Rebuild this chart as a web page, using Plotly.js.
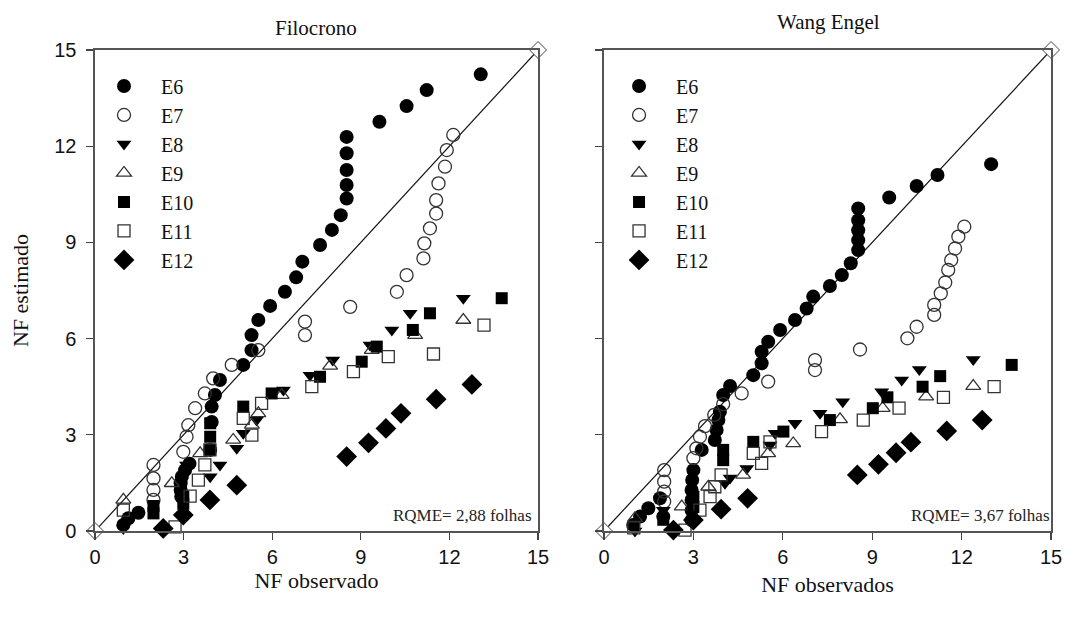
<!DOCTYPE html>
<html>
<head>
<meta charset="utf-8">
<script src="https://cdn.plot.ly/plotly-3.0.1.min.js"></script>
<style>html,body{margin:0;padding:0;background:#fff;}#chart{width:1065px;height:621px;}</style>
</head>
<body>
<div id="chart"></div>
<script>
// ---------- data ----------
const seriesNames = ["E6", "E7", "E8", "E9", "E10", "E11", "E12"];
const panelTitles = ["Filocrono", "Wang Engel"];
const xTitles = ["NF observado", "NF observados"];
const yTitle = "NF estimado";
const rqmeTexts = ["RQME= 2,88 folhas", "RQME= 3,67 folhas"];
const tickVals = [0, 3, 6, 9, 12, 15];
const lineX = [0, 15];
const lineY = [0, 15];

// Filocrono (left panel)
const filE6x = [0.96,1.13,1.47,2.92,2.90,2.90,2.94,3.05,3.20,3.90,3.95,3.95,4.06,4.23,5.02,5.30,5.30,5.53,5.93,6.43,6.81,7.02,7.62,8.02,8.32,8.52,8.52,8.52,8.52,8.52,9.63,10.55,11.23,13.06];
const filE6y = [0.19,0.40,0.57,1.07,1.28,1.49,1.69,1.90,2.10,2.53,3.40,3.88,4.24,4.71,5.18,5.64,6.11,6.58,7.02,7.46,7.91,8.40,8.92,9.39,9.85,10.37,10.79,11.26,11.78,12.29,12.76,13.25,13.75,14.24];
const filE7x = [1.98,1.98,1.98,1.98,2.99,3.10,3.16,3.39,3.72,4.00,4.63,5.53,7.11,7.11,8.64,10.22,10.55,11.12,11.15,11.34,11.55,11.55,11.63,11.85,11.91,12.13];
const filE7y = [0.97,1.28,1.64,2.06,2.47,2.94,3.30,3.83,4.29,4.76,5.18,5.64,6.11,6.53,6.99,7.46,7.98,8.50,8.97,9.44,9.90,10.32,10.84,11.36,11.88,12.35];
const filE8x = [0.96,3.10,3.90,4.23,4.80,5.02,5.47,6.04,6.38,7.28,8.05,9.31,10.05,10.67,12.47];
const filE8y = [0.08,2.06,1.69,2.06,2.58,3.05,3.46,4.34,4.40,4.86,5.33,5.80,6.27,6.79,7.26];
const filE9x = [0.96,2.60,3.56,4.68,5.31,5.53,6.32,7.96,9.37,10.84,12.47];
const filE9y = [0.97,1.49,2.42,2.84,3.31,3.67,4.24,5.15,5.64,6.11,6.58];
const filE10x = [1.98,1.98,2.99,2.99,3.90,3.90,3.90,5.02,5.98,7.62,9.03,9.54,10.76,11.34,13.77];
const filE10y = [0.55,0.78,0.85,1.07,2.53,2.94,3.36,3.88,4.29,4.81,5.28,5.75,6.27,6.79,7.26];
const filE11x = [0.96,2.71,3.22,3.50,3.72,3.89,5.02,5.31,5.64,7.34,8.75,9.93,11.46,13.17];
const filE11y = [0.65,0.13,1.09,1.59,2.06,2.53,3.51,2.99,3.98,4.50,4.97,5.44,5.52,6.42];
const filE12x = [2.31,2.99,3.89,4.80,8.52,9.26,9.85,10.36,11.55,12.76];
const filE12y = [0.08,0.50,0.97,1.43,2.32,2.75,3.20,3.67,4.11,4.57];

// Wang Engel (right panel)
const weE6x = [0.98,1.21,1.49,1.88,1.99,2.94,2.94,2.94,2.94,2.96,3.00,3.28,3.72,3.78,3.84,3.89,4.00,4.23,5.01,5.29,5.29,5.51,5.91,6.41,6.80,7.02,7.58,7.98,8.28,8.53,8.53,8.53,8.53,8.53,9.57,10.49,11.19,12.99];
const weE6y = [0.19,0.45,0.71,1.02,0.45,0.34,0.65,0.97,1.28,1.59,1.90,2.53,2.84,3.15,3.46,3.72,4.24,4.52,4.86,5.23,5.59,5.90,6.27,6.58,6.94,7.31,7.64,7.98,8.35,8.76,9.07,9.38,9.69,10.06,10.40,10.76,11.10,11.44];
const weE7x = [2.02,2.02,2.02,2.02,3.00,3.10,3.22,3.39,3.70,4.00,4.62,5.51,7.08,7.08,8.59,10.18,10.49,11.08,11.08,11.30,11.45,11.55,11.65,11.78,11.89,12.09];
const weE7y = [0.92,1.23,1.54,1.90,2.27,2.58,2.94,3.27,3.62,3.96,4.29,4.66,5.02,5.33,5.66,6.01,6.37,6.74,7.05,7.41,7.75,8.14,8.45,8.81,9.18,9.49];
const weE8x = [1.04,1.99,4.06,4.23,4.79,5.57,5.74,6.41,7.25,8.01,9.32,9.99,10.58,12.39];
const weE8y = [0.00,0.65,1.49,1.65,1.95,2.68,3.05,3.36,3.67,4.03,4.34,4.71,5.04,5.35];
const weE9x = [1.04,2.61,3.50,4.67,5.51,6.35,7.92,9.35,10.81,12.39];
const weE9y = [0.40,0.76,1.38,1.75,2.42,2.73,3.48,3.83,4.19,4.52];
const weE10x = [1.99,3.00,3.00,4.00,4.00,5.01,6.02,7.58,9.02,9.51,10.69,11.28,13.68];
const weE10y = [0.35,0.75,1.07,2.21,2.53,2.78,3.10,3.46,3.83,4.17,4.50,4.83,5.18];
const weE11x = [1.00,2.72,3.22,3.56,3.72,3.93,5.01,5.29,5.57,7.30,8.70,9.90,11.39,13.09];
const weE11y = [0.10,0.03,0.65,1.07,1.38,1.75,2.42,2.11,2.78,3.10,3.46,3.83,4.17,4.50];
const weE12x = [2.33,3.00,3.93,4.82,8.50,9.21,9.80,10.30,11.50,12.69];
const weE12y = [0.03,0.34,0.68,1.02,1.75,2.08,2.44,2.77,3.12,3.46];

// ---------- styles ----------
const styles = [
  {symbol: "circle", size: 14, color: "#000", line: {width: 0}},
  {symbol: "circle-open", size: 13, color: "#333", line: {width: 1.3, color: "#333"}},
  {symbol: "triangle-down", size: 13, color: "#000", line: {width: 0}},
  {symbol: "triangle-up-open", size: 13, color: "#333", line: {width: 1.3, color: "#333"}},
  {symbol: "square", size: 12, color: "#000", line: {width: 0}},
  {symbol: "square-open", size: 12, color: "#333", line: {width: 1.3, color: "#333"}},
  {symbol: "diamond", size: 16, color: "#000", line: {width: 0}}
];

const panels = [
  {xs: [filE6x, filE7x, filE8x, filE9x, filE10x, filE11x, filE12x],
   ys: [filE6y, filE7y, filE8y, filE9y, filE10y, filE11y, filE12y],
   xa: "x", ya: "y", legend: "legend"},
  {xs: [weE6x, weE7x, weE8x, weE9x, weE10x, weE11x, weE12x],
   ys: [weE6y, weE7y, weE8y, weE9y, weE10y, weE11y, weE12y],
   xa: "x2", ya: "y2", legend: "legend2"}
];

const traces = [];
panels.forEach((p, pi) => {
  traces.push({
    x: lineX, y: lineY, xaxis: p.xa, yaxis: p.ya, type: "scatter", mode: "lines+markers",
    line: {color: "#111", width: 1.2},
    marker: {symbol: "diamond", size: 13, color: "#fff", line: {color: "#444", width: 1}},
    showlegend: false, cliponaxis: false, hoverinfo: "skip"
  });
  seriesNames.forEach((name, i) => {
    traces.push({
      x: p.xs[i], y: p.ys[i], xaxis: p.xa, yaxis: p.ya, type: "scatter", mode: "markers",
      name: name, legend: p.legend, legendgroup: "p" + pi,
      marker: styles[i], cliponaxis: false
    });
  });
});

const tickFont = {family: "Liberation Sans Narrow, Arial Narrow, Liberation Sans, Arial", size: 20, color: "#111"};
const serif = "Liberation Serif, Times New Roman, serif";

function axis(domain, anchor, showLabels, titleText, standoff) {
  return {
    domain: domain, anchor: anchor, range: [0, 15], tickvals: tickVals,
    showgrid: false, zeroline: false, showline: true, mirror: true,
    linecolor: "#555", linewidth: 1.5, ticks: "outside", ticklen: 7, tickwidth: 1.2, tickcolor: "#444",
    showticklabels: showLabels, tickfont: tickFont, automargin: false,
    title: titleText ? {text: titleText, font: {family: serif, size: 22, color: "#111"}, standoff: standoff} : {text: ""}
  };
}

const legendBase = {
  font: {family: serif, size: 20, color: "#111"},
  bgcolor: "rgba(0,0,0,0)", borderwidth: 0,
  tracegroupgap: 0, itemwidth: 64, xanchor: "left", yanchor: "top"
};

const yAx = axis([0.1449, 0.9195], "x", true, yTitle, 19);
yAx.ticklabelstandoff = 6;

const layout = {
  width: 1065, height: 621,
  margin: {l: 0, r: 0, t: 0, b: 0},
  paper_bgcolor: "#fff", plot_bgcolor: "#fff",
  xaxis: axis([0.0892, 0.5052], "y", true, xTitles[0], 6),
  yaxis: yAx,
  xaxis2: axis([0.5671, 0.9869], "y2", true, xTitles[1], 10),
  yaxis2: axis([0.1449, 0.9195], "x2", false, "", 0),
  legend: Object.assign({x: 0.0817, y: 0.893}, legendBase),
  legend2: Object.assign({x: 0.5653, y: 0.893}, legendBase),
  annotations: [
    {text: panelTitles[0], xref: "paper", yref: "paper", x: 0.297, y: 0.955, showarrow: false,
     font: {family: serif, size: 21, color: "#111"}, xanchor: "center", yanchor: "middle"},
    {text: panelTitles[1], xref: "paper", yref: "paper", x: 0.778, y: 0.965, showarrow: false,
     font: {family: serif, size: 21, color: "#111"}, xanchor: "center", yanchor: "middle"},
    {text: rqmeTexts[0], xref: "x", yref: "y", x: 14.85, y: 0.47, showarrow: false,
     font: {family: serif, size: 17, color: "#222"}, xanchor: "right", yanchor: "middle"},
    {text: rqmeTexts[1], xref: "x2", yref: "y2", x: 15, y: 0.47, xshift: 1, showarrow: false,
     font: {family: serif, size: 17, color: "#222"}, xanchor: "right", yanchor: "middle"}
  ]
};

Plotly.newPlot("chart", traces, layout, {displayModeBar: false, staticPlot: true});
</script>
</body>
</html>
